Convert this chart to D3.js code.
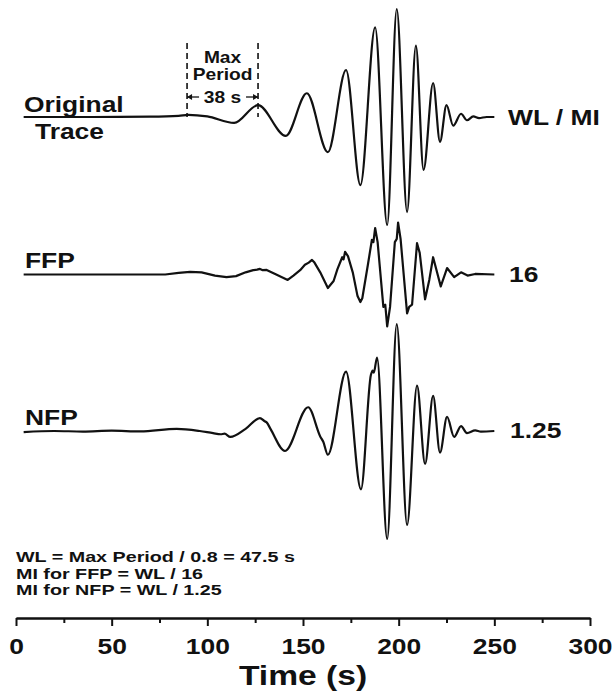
<!DOCTYPE html>
<html>
<head>
<meta charset="utf-8">
<script src="https://cdn.jsdelivr.net/npm/d3@7"></script>
<style>
  body { margin: 0; background: #fff; }
  text { font-family: "Liberation Sans", Arial, sans-serif; font-weight: bold; fill: #111; }
</style>
</head>
<body>
<svg id="chart" width="615" height="692"></svg>
<script>
// Seismogram samples (time in s, normalised amplitude) at the turning points of each trace
const originalTime = [4, 40, 70, 85, 90, 100, 114, 126.5, 141, 152, 163, 172.5, 180, 187.7, 194, 199, 204.4, 209, 213, 218, 221.6, 225, 228.5, 232.6, 235.7, 239, 242, 246, 250];
const originalAmp  = [0, 0, 0.003, 0.01, 0.02, 0.005, -0.055, 0.11, -0.175, 0.22, -0.325, 0.435, -0.63, 0.83, -1.0, 1.0, -0.88, 0.66, -0.49, 0.315, -0.23, 0.11, -0.08, 0.03, -0.03, 0.005, -0.01, 0, 0];

const ffpTime = [4, 30, 55, 78, 85, 91, 97, 104, 110, 115, 120, 124, 126, 127.5, 129, 131, 136, 142, 145, 148.5, 151, 153, 154.7, 156, 159, 163, 166, 168, 170.5, 171.2, 172, 173.5, 176, 178.5, 180, 181, 184, 186, 186.8, 187.7, 189, 192, 193, 194, 195.5, 198, 199, 199.7, 201, 204.4, 205.5, 207, 209.6, 211, 213.8, 216, 218, 222, 225.3, 229, 232.6, 236, 240, 250];
const ffpAmp  = [0, 0, 0, 0, 0.015, 0.025, 0.02, -0.01, -0.025, -0.015, 0.02, 0.04, 0.045, 0.052, 0.04, 0.042, 0.0, -0.05, -0.01, 0.04, 0.09, 0.11, 0.135, 0.11, 0.02, -0.125, -0.06, 0.05, 0.16, 0.14, 0.21, 0.17, 0.02, -0.2, -0.255, -0.22, 0.1, 0.32, 0.3, 0.43, 0.3, -0.3, -0.28, -0.48, -0.3, 0.3, 0.33, 0.48, 0.33, -0.36, -0.3, -0.28, 0.29, 0.2, -0.23, -0.05, 0.16, -0.11, 0.06, -0.025, 0.02, -0.01, 0.005, 0];

const nfpTime = [4, 20, 35, 50, 65, 84, 96, 103, 107, 109, 112, 120, 127.5, 130, 131, 133, 140.6, 152.7, 159, 160.6, 163, 172.5, 180.3, 185.5, 186.4, 187, 188.7, 194, 199, 204.4, 209.6, 213.8, 218, 221.6, 225.3, 229, 232.6, 235.7, 240, 243, 250];
const nfpAmp  = [-0.01, 0.0, -0.005, 0.003, -0.004, 0.02, 0.0, -0.02, -0.03, -0.025, -0.055, 0.02, 0.12, 0.09, 0.08, 0.02, -0.185, 0.22, -0.05, -0.1, -0.22, 0.55, -0.54, 0.52, 0.56, 0.54, 0.68, -1.0, 0.99, -0.87, 0.42, -0.305, 0.325, -0.2, 0.13, -0.055, 0.045, -0.02, 0.005, -0.005, 0];

const traceNames  = ["Original", "FFP", "NFP"];
const sideLabels  = ["WL / MI", "16", "1.25"];
const majorTicks  = [0, 50, 100, 150, 200, 250, 300];
const minorTicks  = [25, 75, 125, 175, 225, 275];
const maxPeriod   = [89.4, 126.5];   // start / end of the longest period (s)
const periodLabel = ["Max", "Period", "38 s"];
const notes = ["WL = Max Period / 0.8 = 47.5 s", "MI for FFP = WL / 16", "MI for NFP = WL / 1.25"];

const svg = d3.select("#chart");
const STRETCH = 1.2;

const x = d3.scaleLinear().domain([0, 300]).range([16, 590]);

function label(txt, px, py, size, anchor = "start", stretch = STRETCH) {
  return svg.append("text")
    .attr("transform", `translate(${px},${py}) scale(${stretch},1)`)
    .attr("text-anchor", anchor)
    .style("font-size", size + "px")
    .text(txt);
}

// Traces stacked vertically, sharing one amplitude scale
const traces = [
  { time: originalTime, amp: originalAmp, base: 117,   curve: d3.curveMonotoneX },
  { time: ffpTime,      amp: ffpAmp,      base: 274.5, curve: d3.curveLinear },
  { time: nfpTime,      amp: nfpAmp,      base: 431,   curve: d3.curveMonotoneX }
];

traces.forEach(tr => {
  const y = d3.scaleLinear().domain([-1, 1]).range([tr.base + 108, tr.base - 108]);
  const line = d3.line().x(d => x(d[0])).y(d => y(d[1])).curve(tr.curve);
  svg.append("path")
    .datum(d3.zip(tr.time, tr.amp))
    .attr("d", line)
    .attr("fill", "none")
    .attr("stroke", "#111")
    .attr("stroke-width", 2.2)
    .attr("stroke-linejoin", "round");
});

// Trace names on the left, window / interval labels on the right
label(traceNames[0], 24, 112, 22);
label("Trace", 35, 139, 22);
label(traceNames[1], 25, 268, 22);
label(traceNames[2], 25, 425, 22);
label(sideLabels[0], 508, 125, 22);
label(sideLabels[1], 509, 282, 22);
label(sideLabels[2], 510, 438, 22);

// Max period bracket
const xa = x(maxPeriod[0]), xb = x(maxPeriod[1]), xm = (xa + xb) / 2;
[xa, xb].forEach(px => {
  svg.append("line")
    .attr("x1", px).attr("x2", px).attr("y1", 43).attr("y2", 117)
    .attr("stroke", "#111").attr("stroke-width", 1.6)
    .attr("stroke-dasharray", "6,4");
});
label(periodLabel[0], xm, 63, 16, "middle");
label(periodLabel[1], xm, 80, 16, "middle");
label(periodLabel[2], xm, 103, 16, "middle");
const arrowY = 97;
[[xa, xa + 12], [xb, xb - 12]].forEach(([tip, tail]) => {
  const dir = Math.sign(tail - tip);
  svg.append("line")
    .attr("x1", tip).attr("x2", tail).attr("y1", arrowY).attr("y2", arrowY)
    .attr("stroke", "#111").attr("stroke-width", 1.3);
  svg.append("path")
    .attr("d", `M${tip},${arrowY} L${tip + dir * 5},${arrowY - 3} L${tip + dir * 5},${arrowY + 3} Z`)
    .attr("fill", "#111");
});

// Notes
notes.forEach((n, i) => label(n, 16, 562 + i * 16.5, 14.5, "start", 1.36));

// Time axis
const axisY = 618;
const minorAxis = d3.axisBottom(x).tickValues(minorTicks).tickSize(5).tickSizeOuter(0).tickFormat("");
const majorAxis = d3.axisBottom(x).tickValues(majorTicks).tickSize(8).tickSizeOuter(0).tickFormat(d3.format("d"));

const gMinor = svg.append("g").attr("transform", `translate(0,${axisY})`).call(minorAxis);
const gMajor = svg.append("g").attr("transform", `translate(0,${axisY})`).call(majorAxis);
[gMinor, gMajor].forEach(g => {
  g.select(".domain").attr("stroke", "#111").attr("stroke-width", 2);
  g.selectAll(".tick line").attr("stroke", "#111").attr("stroke-width", 2);
});
gMajor.selectAll(".tick text")
  .attr("y", 0).attr("dy", 0)
  .attr("transform", `translate(0,36) scale(${STRETCH},1)`)
  .style("font-size", "22px")
  .style("font-family", "'Liberation Sans', Arial, sans-serif")
  .style("font-weight", "bold")
  .attr("fill", "#111");

label("Time (s)", (x(0) + x(300)) / 2, 685, 28, "middle");
</script>
</body>
</html>
